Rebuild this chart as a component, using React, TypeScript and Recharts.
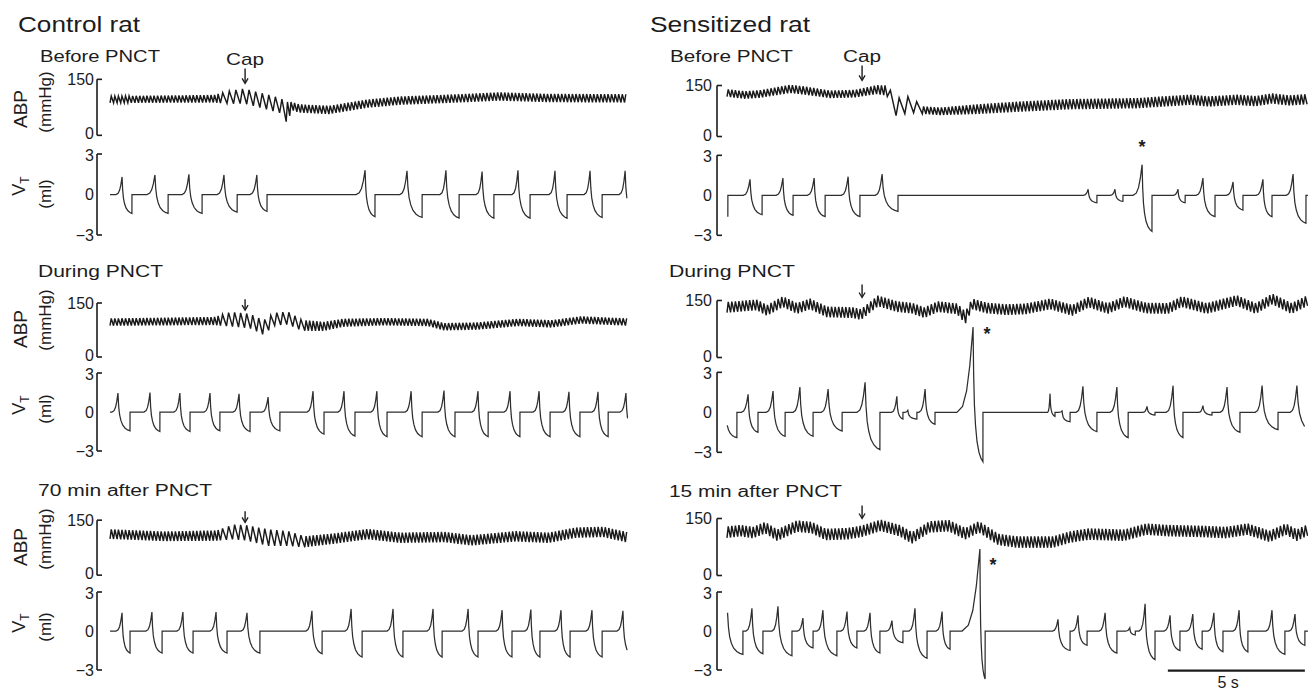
import React from 'react';
import { LineChart, Line, XAxis, YAxis, ReferenceLine, ReferenceDot } from 'recharts';

// ---------------- DATA (times in s, ABP in mmHg, VT in ml) ----------------
// ABP envelope keypoints: [time, mean pressure, pulse pressure]
const abpCtlBefore = [
  [0, 96, 18], [3.8, 98, 20], [4.4, 102, 35], [4.9, 105, 40], [5.7, 90, 40], [6.2, 80, 40],
  [6.45, 62, 55], [6.65, 78, 22], [6.9, 72, 22], [8.0, 68, 22], [9.4, 85, 22], [10.6, 93, 22],
  [12.4, 98, 22], [14.2, 104, 22], [16.0, 100, 22], [18.9, 99, 22],
];
const abpCtlDuring = [
  [0, 97, 20], [3.8, 100, 22], [4.4, 105, 40], [5.1, 100, 40], [5.6, 82, 40], [6.0, 105, 35],
  [6.5, 108, 35], [7.0, 88, 30], [7.8, 85, 25], [8.5, 95, 22], [10.0, 98, 20], [11.6, 96, 20],
  [12.2, 84, 20], [13.4, 86, 20], [14.9, 96, 20], [16.1, 92, 20], [17.2, 103, 20], [18.9, 97, 20],
];
const abpCtl70 = [
  [0, 112, 26], [2.0, 106, 26], [3.9, 108, 28], [4.5, 118, 40], [5.0, 115, 42], [5.8, 102, 45],
  [6.5, 100, 40], [7.1, 91, 30], [8.2, 100, 28], [9.4, 112, 28], [10.6, 102, 28], [12.2, 104, 28],
  [13.2, 95, 28], [14.8, 106, 28], [16.0, 102, 28], [17.0, 116, 28], [18.0, 118, 28], [18.9, 103, 28],
];
const abpSenBefore = [
  [0, 128, 22], [0.66, 122, 22], [1.2, 125, 22], [2.3, 140, 24], [2.85, 135, 24], [3.76, 124, 22],
  [4.67, 126, 22], [5.47, 138, 26], [5.84, 135, 30], [6.06, 95, 60], [6.3, 85, 55], [6.6, 95, 45],
  [6.86, 88, 38], [7.12, 78, 22], [7.77, 74, 22], [9.05, 80, 28], [10.7, 88, 30], [12.5, 95, 30],
  [14.96, 98, 30], [16.9, 108, 30], [17.6, 103, 30], [18.6, 108, 30], [19.3, 104, 30],
  [19.9, 112, 30], [20.5, 106, 30], [21.2, 110, 30],
];
const abpSenDuring = [
  [0, 132, 28], [0.84, 137, 28], [1.1, 138, 28], [1.46, 124, 28], [2.04, 147, 28], [2.55, 129, 28],
  [3.03, 141, 28], [3.65, 120, 28], [4.6, 118, 28], [4.89, 113, 28], [5.51, 149, 28], [6.2, 134, 28],
  [6.75, 130, 28], [7.2, 118, 28], [7.7, 134, 28], [8.4, 128, 28], [8.7, 105, 32], [8.95, 141, 28],
  [9.5, 130, 28], [10.2, 126, 28], [10.9, 128, 28], [11.8, 141, 28], [12.6, 124, 28], [13.2, 146, 28],
  [13.9, 129, 28], [14.5, 147, 28], [15.3, 130, 28], [16.1, 129, 28], [16.6, 147, 28], [17.5, 129, 28],
  [18.6, 150, 28], [19.3, 129, 28], [19.9, 154, 28], [20.6, 129, 28], [21.2, 150, 28],
];
const abpSen15 = [
  [0, 114, 30], [0.5, 118, 30], [0.95, 113, 30], [1.4, 126, 30], [1.83, 106, 30], [2.55, 130, 30],
  [3.1, 126, 30], [3.6, 108, 30], [4.4, 110, 30], [4.9, 116, 30], [5.6, 132, 30], [6.3, 118, 30],
  [6.75, 99, 30], [7.4, 128, 30], [8.1, 131, 30], [8.7, 110, 30], [9.2, 128, 30], [9.9, 95, 30],
  [10.6, 88, 30], [11.9, 88, 30], [12.5, 101, 30], [13.2, 109, 30], [14.5, 106, 30], [15.3, 122, 30],
  [16.1, 118, 30], [17.3, 116, 30], [18.2, 113, 30], [19.0, 122, 30], [19.8, 103, 30], [20.4, 122, 30],
  [20.8, 106, 30], [21.2, 120, 30],
];

// heart beat interval segments: [from time, beat interval]
const beatCtlBefore = [[0, 0.13], [3.9, 0.24], [6.4, 0.13]];
const beatCtlDuring = [[0, 0.13], [3.9, 0.22], [7.1, 0.13]];
const beatCtl70 = [[0, 0.13], [4.0, 0.22], [7.0, 0.13]];
const beatSenBefore = [[0, 0.13], [5.8, 0.32], [7.1, 0.13]];
const beatSenDuring = [[0, 0.13]];
const beatSen15 = [[0, 0.13]];

// breaths: [onset, peak time, peak VT, trough time, trough VT]
const vtCtlBefore = [
  [0.22, 0.44, 1.3, 0.8, -1.4], [1.35, 1.64, 1.45, 2.12, -1.4], [2.63, 2.88, 1.5, 3.36, -1.4],
  [3.91, 4.16, 1.45, 4.64, -1.3], [5.11, 5.36, 1.45, 5.73, -1.25], [8.98, 9.31, 1.8, 9.67, -1.65],
  [10.58, 10.84, 1.75, 11.39, -1.7], [12.04, 12.26, 1.8, 12.74, -1.75], [13.36, 13.58, 1.7, 14.01, -1.75],
  [14.67, 14.89, 1.8, 15.33, -1.75], [16.02, 16.24, 1.75, 16.68, -1.75], [17.3, 17.52, 1.75, 17.96, -1.7],
  [18.58, 18.8, 1.75, 19.25, -1.75],
];
const vtCtlDuring = [
  [0.07, 0.29, 1.45, 0.73, -1.45], [1.24, 1.46, 1.5, 1.82, -1.5], [2.33, 2.55, 1.45, 2.92, -1.5],
  [3.43, 3.65, 1.45, 4.01, -1.45], [4.49, 4.71, 1.4, 5.11, -1.5], [5.55, 5.77, 1.15, 6.2, -1.45],
  [7.19, 7.41, 1.6, 7.81, -1.7], [8.32, 8.54, 1.6, 8.94, -1.85], [9.52, 9.74, 1.6, 10.11, -1.9],
  [10.77, 10.99, 1.6, 11.39, -1.9], [11.97, 12.19, 1.65, 12.59, -1.9], [13.21, 13.43, 1.6, 13.8, -1.9],
  [14.38, 14.6, 1.6, 14.96, -1.9], [15.44, 15.66, 1.6, 16.06, -1.9], [16.53, 16.75, 1.55, 17.15, -1.9],
  [17.59, 17.81, 1.55, 18.18, -1.9], [18.61, 18.83, 1.45, 19.25, -1.9],
];
const vtCtl70 = [
  [0.22, 0.44, 1.4, 0.73, -1.7], [1.31, 1.53, 1.45, 1.9, -1.7], [2.44, 2.66, 1.45, 3.03, -1.7],
  [3.65, 3.87, 1.45, 4.27, -1.7], [4.78, 5.0, 1.4, 5.47, -1.7], [7.15, 7.37, 1.55, 7.74, -1.75],
  [8.58, 8.8, 1.7, 9.2, -2.0], [10.11, 10.33, 1.7, 10.69, -2.0], [11.57, 11.79, 1.7, 12.12, -2.0],
  [12.85, 13.07, 1.7, 13.43, -2.0], [14.09, 14.31, 1.6, 14.67, -2.0], [15.14, 15.36, 1.65, 15.69, -2.0],
  [16.24, 16.46, 1.6, 16.79, -2.0], [17.37, 17.59, 1.6, 17.96, -2.0], [18.5, 18.72, 1.55, 19.1, -2.0],
];
const vtSenBefore = [
  [-0.6, -0.4, 1.2, 0.03, -1.6], [0.59, 0.84, 1.2, 1.28, -1.45], [1.79, 2.04, 1.3, 2.41, -1.5],
  [2.93, 3.18, 1.3, 3.58, -1.6], [4.17, 4.42, 1.4, 4.85, -1.6], [5.41, 5.66, 1.6, 6.24, -1.2],
  [13.0, 13.18, 0.45, 13.5, -0.55], [13.98, 14.16, 0.45, 14.45, -0.45], [14.82, 15.15, 2.3, 15.51, -2.7],
  [16.28, 16.46, 0.45, 16.72, -0.55], [17.12, 17.37, 1.3, 17.81, -1.6], [18.22, 18.47, 1.0, 18.83, -1.1],
  [19.31, 19.56, 1.2, 19.89, -1.6], [20.41, 20.66, 1.6, 21.13, -2.1],
];
const vtSenDuring = [
  [-0.5, -0.05, 0.3, 0.36, -1.9], [0.52, 0.77, 1.35, 1.13, -1.5], [1.43, 1.68, 1.6, 2.12, -1.8],
  [2.41, 2.66, 1.9, 3.14, -1.8], [3.44, 3.69, 1.75, 4.2, -1.4], [4.74, 5.04, 2.25, 5.58, -2.8],
  [6.0, 6.2, 1.2, 6.42, -0.5], [6.48, 6.6, 0.15, 6.93, -0.5], [7.0, 7.23, 1.75, 7.59, -0.9],
  [8.39, 8.98, 6.4, 9.34, -3.7], [11.7, 11.79, 1.4, 11.97, -0.3], [12.1, 12.23, 0.1, 12.52, -0.7],
  [12.74, 12.99, 1.95, 13.5, -1.45], [13.98, 14.23, 1.9, 14.64, -1.9], [15.18, 15.33, 0.45, 15.62, -0.2],
  [16.03, 16.28, 2.0, 16.64, -1.9], [17.22, 17.37, 0.5, 17.7, -0.2], [18.0, 18.25, 1.9, 18.72, -1.5],
  [19.28, 19.53, 2.0, 20.11, -1.3], [20.55, 20.8, 2.0, 21.5, -1.6],
];
const vtSen15 = [
  [-0.25, 0.02, 1.4, 0.58, -1.8], [0.69, 0.91, 1.75, 1.31, -1.75], [1.64, 1.86, 1.9, 2.37, -1.9],
  [2.57, 2.77, 1.0, 3.14, -1.3], [3.28, 3.5, 1.6, 4.01, -1.9], [4.16, 4.38, 1.5, 4.74, -1.3],
  [5.0, 5.22, 1.4, 5.58, -1.7], [5.82, 6.02, 0.8, 6.42, -0.9], [6.64, 6.86, 1.75, 7.3, -2.1],
  [7.63, 7.85, 1.5, 8.14, -1.4], [8.58, 9.23, 6.3, 9.42, -3.7], [11.88, 12.08, 0.9, 12.52, -1.5],
  [12.61, 12.81, 1.2, 13.14, -1.1], [13.58, 13.8, 1.4, 14.23, -1.7], [14.55, 14.7, 0.25, 14.9, -0.3],
  [15.04, 15.26, 2.1, 15.62, -2.2], [15.95, 16.17, 1.2, 16.53, -1.5], [16.78, 17.0, 1.3, 17.34, -1.4],
  [17.55, 17.77, 1.4, 18.1, -1.6], [18.47, 18.69, 1.6, 19.01, -1.6], [19.67, 19.89, 1.6, 20.36, -1.8],
  [20.51, 20.73, 1.3, 21.09, -1.1],
];

// capsaicin injection time and arrow tip level (mmHg) per panel
const capTime = 4.93;
const capTips = { ctlBefore: 139, ctlDuring: 130, ctl70: 144, senBefore: 165, senDuring: 158, sen15: 150 };
// sigh markers: [time, VT level]
const starSenBefore = [15.15, 3.9];
const starSenDuring = [9.49, 6.2];
const starSen15 = [9.71, 5.4];
// 5 s scale bar [start, end]
const scaleBar = [16.09, 21.09];

const abpTicks = [0, 150];
const abpTickLabels: Record<string, string> = { '0': '0', '150': '150' };
const vtTicks = [-3, 0, 3];
const vtTickLabels: Record<string, string> = { '-3': '\u22123', '0': '0', '3': '3' };

// ---------------- helpers ----------------
type Pt = { t: number; v: number };
const FONT = '"Liberation Sans", Arial, Helvetica, sans-serif';
const INK = '#1c1c1c';
const PX_PER_S = 27.4;

function envAt(keys: number[][], t: number): [number, number] {
  if (t <= keys[0][0]) return [keys[0][1], keys[0][2]];
  for (let i = 0; i < keys.length - 1; i++) {
    const a = keys[i];
    const b = keys[i + 1];
    if (t <= b[0]) {
      const f = (t - a[0]) / (b[0] - a[0]);
      return [a[1] + f * (b[1] - a[1]), a[2] + f * (b[2] - a[2])];
    }
  }
  const l = keys[keys.length - 1];
  return [l[1], l[2]];
}
function periodAt(beats: number[][], t: number) {
  let p = beats[0][1];
  for (const [s, q] of beats) if (t >= s) p = q;
  return p;
}
function buildAbp(keys: number[][], beats: number[][], tEnd: number): Pt[] {
  const pts: Pt[] = [];
  let t = 0;
  while (t <= tEnd) {
    const p = periodAt(beats, t);
    const [m, pp] = envAt(keys, t);
    pts.push({ t, v: m - pp / 2 });
    const ts = t + p * 0.35;
    if (ts <= tEnd) {
      const [m2, pp2] = envAt(keys, ts);
      pts.push({ t: ts, v: m2 + pp2 / 2 });
    }
    t += p;
  }
  return pts;
}
const RISE = [[0, 0], [0.35, 0.07], [0.6, 0.25], [0.8, 0.55], [0.92, 0.82], [1, 1]];
const FALL = [[0.06, 0.35], [0.14, 0.58], [0.25, 0.73], [0.4, 0.85], [0.6, 0.93], [0.8, 0.975], [1, 1]];
function buildVt(breaths: number[][], tEnd: number): Pt[] {
  const raw: Pt[] = [];
  if (breaths[0][0] > 0) raw.push({ t: 0, v: 0 });
  for (const [on, pk, pv, tr, tv] of breaths) {
    for (const [s, f] of RISE) raw.push({ t: on + s * (pk - on), v: f * pv });
    for (const [s, f] of FALL) raw.push({ t: pk + s * (tr - pk), v: pv + f * (tv - pv) });
    raw.push({ t: tr + 0.002, v: 0 });
  }
  const last = breaths[breaths.length - 1];
  if (last[3] < tEnd) raw.push({ t: tEnd, v: 0 });
  return raw.filter((p) => p.t >= 0 && p.t <= tEnd);
}

const COLS = {
  L: { bracketX: 97, traceX0: 110, right: 628, gap: 3 },
  R: { bracketX: 717, traceX0: 727, right: 1308, gap: 5 },
};

type TraceProps = {
  data: Pt[];
  side: 'L' | 'R';
  yTop: number;
  yBot: number;
  refTop: number;
  refBot: number;
  lo: number;
  hi: number;
  ticks: number[];
  tickLabels: Record<string, string>;
  sw: number;
  color: string;
  nudge: Record<string, number>;
  extras?: React.ReactNode[];
};

function Trace({ data, side, yTop, yBot, refTop, refBot, lo, hi, ticks, tickLabels, sw, color, nudge, extras }: TraceProps) {
  const col = COLS[side];
  const xMin = (col.bracketX - col.traceX0) / PX_PER_S;
  const xMax = (col.right - col.traceX0) / PX_PER_S;
  const ppu = (yBot - yTop) / (refTop - refBot);
  const plotTop = yTop - (hi - refTop) * ppu;
  const plotH = (hi - lo) * ppu;
  const AXW = 60;
  const MT = 44;
  const MB = 16;
  const width = AXW + (col.right - col.bracketX) + 4;
  const height = plotH + MT + MB;
  const tickLen = 5 / PX_PER_S;
  const renderTick = (p: any) => {
    const key = String(p.payload.value);
    return (
      <text
        x={p.x - col.gap}
        y={p.y + 5.5 + (nudge[key] || 0)}
        textAnchor="end"
        fontSize={16}
        fontFamily={FONT}
        fill={INK}
      >
        {tickLabels[key]}
      </text>
    );
  };
  return (
    <div style={{ position: 'absolute', left: col.bracketX - AXW, top: plotTop - MT, width, height }}>
      <LineChart width={width} height={height} data={data} margin={{ top: MT, bottom: MB, left: 0, right: 4 }}>
        <XAxis type="number" dataKey="t" domain={[xMin, xMax]} allowDataOverflow hide />
        <YAxis
          type="number"
          domain={[lo, hi]}
          allowDataOverflow
          ticks={ticks}
          interval={0}
          width={AXW}
          axisLine={false}
          tickLine={false}
          tickSize={0}
          tickMargin={0}
          tick={renderTick}
        />
        <ReferenceLine segment={[{ x: xMin, y: refBot }, { x: xMin, y: refTop }]} stroke={INK} strokeWidth={1.6} ifOverflow="visible" />
        <ReferenceLine segment={[{ x: xMin, y: refTop }, { x: xMin + tickLen, y: refTop }]} stroke={INK} strokeWidth={1.6} ifOverflow="visible" />
        <ReferenceLine segment={[{ x: xMin, y: refBot }, { x: xMin + tickLen, y: refBot }]} stroke={INK} strokeWidth={1.6} ifOverflow="visible" />
        <Line
          type="linear"
          dataKey="v"
          stroke={color}
          strokeWidth={sw}
          dot={false}
          activeDot={false}
          isAnimationActive={false}
        />
        {extras}
      </LineChart>
    </div>
  );
}

const arrowShape = (len: number, withCap: boolean) => (p: any) => (
  <g>
    <line x1={p.cx} y1={p.cy - len} x2={p.cx} y2={p.cy - 1} stroke={INK} strokeWidth={1.4} />
    <path d={`M${p.cx - 3},${p.cy - 5} L${p.cx},${p.cy} L${p.cx + 3},${p.cy - 5}`} fill="none" stroke={INK} strokeWidth={1.3} />
    {withCap && (
      <text x={p.cx} y={p.cy - len - 3} textAnchor="middle" fontSize={16} fontFamily={FONT} fill={INK} textLength={38} lengthAdjust="spacingAndGlyphs">
        Cap
      </text>
    )}
  </g>
);
const starShape = (p: any) => (
  <text x={p.cx} y={p.cy + 10} textAnchor="middle" fontSize={18} fontWeight="bold" fontFamily={FONT} fill={INK}>
    *
  </text>
);
const barLabelShape = (p: any) => (
  <text x={p.cx} y={p.cy + 17} textAnchor="middle" fontSize={16} fontFamily={FONT} fill={INK}>
    5 s
  </text>
);

const arrow = (key: string, tip: number, len: number, withCap: boolean) => (
  <ReferenceDot key={key} x={capTime} y={tip} r={0} ifOverflow="visible" shape={arrowShape(len, withCap)} />
);
const star = (key: string, s: number[]) => (
  <ReferenceDot key={key} x={s[0]} y={s[1]} r={0} ifOverflow="visible" shape={starShape} />
);

const T_L = (COLS.L.right - COLS.L.traceX0) / PX_PER_S;
const T_R = (COLS.R.right - COLS.R.traceX0) / PX_PER_S;

const ABP_DOM = {
  lo: 0, hi: 175, refTop: 150, refBot: 0, ticks: abpTicks, tickLabels: abpTickLabels,
  sw: 1.45, color: '#1a1a1a', nudge: { '0': -1.5 },
};
const VT_DOM = {
  lo: -4, hi: 7, refTop: 3, refBot: -3, ticks: vtTicks, tickLabels: vtTickLabels,
  sw: 1.25, color: '#2e2e2e', nudge: { '3': 1.5 },
};

function RotLabel({ x, y, size, children }: { x: number; y: number; size: number; children: React.ReactNode }) {
  return (
    <text transform={`translate(${x},${y}) rotate(-90)`} textAnchor="middle" fontSize={size} fontFamily={FONT} fill={INK}>
      {children}
    </text>
  );
}

function Txt({ x, y, size, len, children }: { x: number; y: number; size: number; len: number; children: string }) {
  return (
    <text x={x} y={y} fontSize={size} fontFamily={FONT} fill={INK} textLength={len} lengthAdjust="spacingAndGlyphs">
      {children}
    </text>
  );
}

export default function App() {
  const rowsY = [
    { abp: 109, mmhg: 102, vt: 186, ml: 194 },
    { abp: 329, mmhg: 320, vt: 405, ml: 409 },
    { abp: 547, mmhg: 539, vt: 623, ml: 627 },
  ];
  return (
    <div style={{ position: 'absolute', left: 0, top: 0, width: 1316, height: 692, background: '#fff', overflow: 'hidden' }}>
      {/* Control rat */}
      <Trace data={buildAbp(abpCtlBefore, beatCtlBefore, T_L)} side="L" yTop={79} yBot={135} {...ABP_DOM} extras={[arrow('a1', capTips.ctlBefore, 15, true)]} />
      <Trace data={buildVt(vtCtlBefore, T_L)} side="L" yTop={154} yBot={235} {...VT_DOM} />
      <Trace data={buildAbp(abpCtlDuring, beatCtlDuring, T_L)} side="L" yTop={303} yBot={357} {...ABP_DOM} extras={[arrow('a2', capTips.ctlDuring, 11, false)]} />
      <Trace data={buildVt(vtCtlDuring, T_L)} side="L" yTop={373} yBot={451} {...VT_DOM} />
      <Trace data={buildAbp(abpCtl70, beatCtl70, T_L)} side="L" yTop={520} yBot={575} {...ABP_DOM} extras={[arrow('a3', capTips.ctl70, 11, false)]} />
      <Trace data={buildVt(vtCtl70, T_L)} side="L" yTop={592} yBot={670} {...VT_DOM} />
      {/* Sensitized rat */}
      <Trace data={buildAbp(abpSenBefore, beatSenBefore, T_R)} side="R" yTop={85} yBot={136} {...ABP_DOM} extras={[arrow('a4', capTips.senBefore, 15, true)]} />
      <Trace data={buildVt(vtSenBefore, T_R)} side="R" yTop={155} yBot={235} {...VT_DOM} extras={[star('s1', starSenBefore)]} />
      <Trace data={buildAbp(abpSenDuring, beatSenDuring, T_R)} side="R" yTop={300} yBot={357} {...ABP_DOM} extras={[arrow('a5', capTips.senDuring, 13, false)]} />
      <Trace data={buildVt(vtSenDuring, T_R)} side="R" yTop={372} yBot={452} {...VT_DOM} extras={[star('s2', starSenDuring)]} />
      <Trace data={buildAbp(abpSen15, beatSen15, T_R)} side="R" yTop={518} yBot={575} {...ABP_DOM} extras={[arrow('a6', capTips.sen15, 13, false)]} />
      <Trace
        data={buildVt(vtSen15, T_R)}
        side="R"
        yTop={592}
        yBot={670}
        {...VT_DOM}
        extras={[
          star('s3', starSen15),
          <ReferenceLine key="bar" segment={[{ x: scaleBar[0], y: -3.05 }, { x: scaleBar[1], y: -3.05 }]} stroke={INK} strokeWidth={2.2} ifOverflow="visible" />,
          <ReferenceDot key="barlab" x={(scaleBar[0] + scaleBar[1]) / 2 - 0.3} y={-3.05} r={0} ifOverflow="visible" shape={barLabelShape} />,
        ]}
      />

      <svg width={1316} height={692} style={{ position: 'absolute', left: 0, top: 0, pointerEvents: 'none' }}>
        <Txt x={18} y={32} size={22} len={122}>Control rat</Txt>
        <Txt x={650} y={32} size={22} len={160}>Sensitized rat</Txt>
        <Txt x={40} y={62} size={16} len={120}>Before PNCT</Txt>
        <Txt x={670} y={62} size={16} len={123}>Before PNCT</Txt>
        <Txt x={38} y={277} size={16} len={125}>During PNCT</Txt>
        <Txt x={669} y={277} size={16} len={126}>During PNCT</Txt>
        <Txt x={38} y={496} size={16} len={174}>70 min after PNCT</Txt>
        <Txt x={669} y={497} size={16} len={173}>15 min after PNCT</Txt>
        {rowsY.map((r, i) => (
          <g key={i}>
            <RotLabel x={27} y={r.abp} size={19}>ABP</RotLabel>
            <RotLabel x={51} y={r.mmhg} size={17}>(mmHg)</RotLabel>
            <RotLabel x={25} y={r.vt} size={18}>
              V<tspan fontSize={12} dy={4}>T</tspan>
            </RotLabel>
            <RotLabel x={51} y={r.ml} size={17}>(ml)</RotLabel>
          </g>
        ))}
      </svg>
    </div>
  );
}
